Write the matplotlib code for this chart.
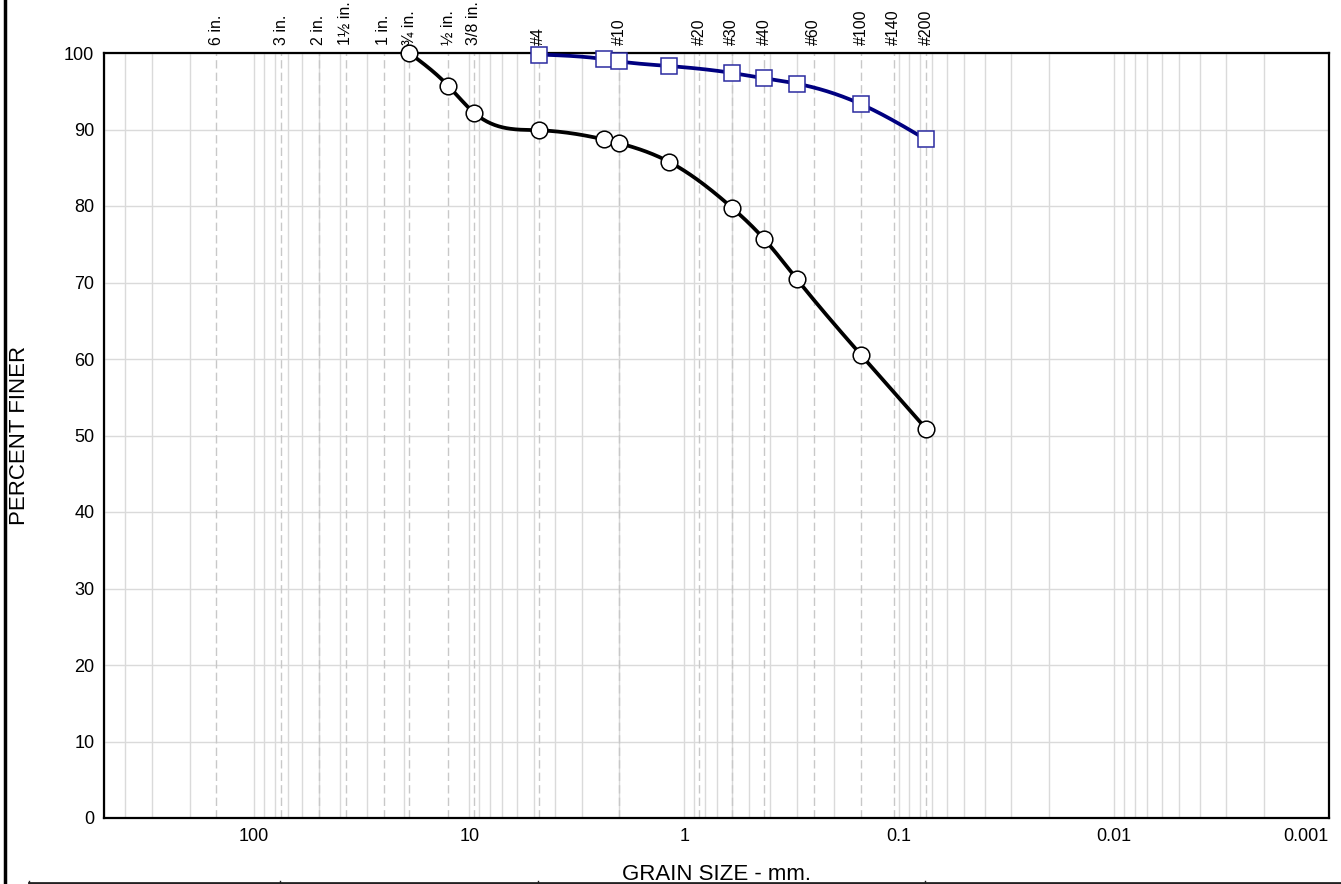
import numpy as np
import matplotlib
matplotlib.use('Agg')
import matplotlib.pyplot as plt
from matplotlib.lines import Line2D
from matplotlib.ticker import LogLocator, NullFormatter

plt.rcParams['font.family'] = ['Liberation Sans', 'DejaVu Sans']

# sieve openings (mm) marked along the top
sieve_mm = [150, 75, 50, 37.5, 25, 19, 12.5, 9.5, 4.75, 2.0, 0.85, 0.6, 0.425,
            0.25, 0.15, 0.106, 0.075]
sieve_labels = ['6 in.', '3 in.', '2 in.', '1½ in.', '1 in.', '¾ in.', '½ in.',
                '3/8 in.', '#4', '#10', '#20', '#30', '#40', '#60', '#100',
                '#140', '#200']

# sample 1 (circles)
size_a = [19, 12.5, 9.5, 4.75, 2.36, 2.0, 1.18, 0.6, 0.425, 0.3, 0.15, 0.075]
finer_a = [100.0, 95.7, 92.2, 89.9, 88.7, 88.2, 85.8, 79.8, 75.7, 70.5, 60.5, 50.9]

# sample 2 (squares)
size_b = [4.75, 2.36, 2.0, 1.18, 0.6, 0.425, 0.3, 0.15, 0.075]
finer_b = [99.8, 99.2, 98.9, 98.3, 97.4, 96.7, 96.0, 93.3, 88.7]

x_ticks = [100, 10, 1, 0.1, 0.01, 0.001]
x_ticklabels = ['100', '10', '1', '0.1', '0.01', '0.001']
y_ticks = list(range(0, 101, 10))


def spline_curve(x, y, n=400):
    # natural cubic spline through the points, in log10(size)
    u = np.log10(np.asarray(x, float))
    y = np.asarray(y, float)
    order = np.argsort(u)
    u, y = u[order], y[order]
    m = len(u)
    h = np.diff(u)
    A = np.zeros((m, m))
    r = np.zeros(m)
    A[0, 0] = A[-1, -1] = 1
    for i in range(1, m - 1):
        A[i, i - 1] = h[i - 1]
        A[i, i] = 2 * (h[i - 1] + h[i])
        A[i, i + 1] = h[i]
        r[i] = 6 * ((y[i + 1] - y[i]) / h[i] - (y[i] - y[i - 1]) / h[i - 1])
    M = np.linalg.solve(A, r)
    us = np.linspace(u[0], u[-1], n)
    k = np.clip(np.searchsorted(u, us) - 1, 0, m - 2)
    t0 = us - u[k]
    t1 = u[k + 1] - us
    hk = h[k]
    ys = ((M[k] * t1**3 + M[k + 1] * t0**3) / (6 * hk)
          + (y[k] / hk - M[k] * hk / 6) * t1
          + (y[k + 1] / hk - M[k + 1] * hk / 6) * t0)
    return 10**us, ys


W, H = 1341, 884
fig = plt.figure(figsize=(W / 100, H / 100), dpi=100)
ax = fig.add_axes([104 / W, 66 / H, 1225 / W, 765 / H])
ax.set_xscale('log')
ax.set_xlim(500, 0.001)
ax.set_ylim(0, 100)
ax.set_axisbelow(True)

ax.xaxis.set_minor_locator(LogLocator(base=10, subs=np.arange(2, 10)))
ax.xaxis.set_minor_formatter(NullFormatter())
ax.set_xticks(x_ticks, x_ticklabels)
ax.set_yticks(y_ticks)
ax.tick_params(which='both', length=0, pad=7, labelsize=13)
ax.get_xticklabels()[-1].set_ha('right')

ax.grid(axis='x', which='both', color='#dadada', lw=1)
ax.grid(axis='y', which='major', color='#dadada', lw=1)
for d in sieve_mm:
    ax.axvline(d, color='#c8c8c8', lw=1, ls=(0, (6, 3)), zorder=1)

for sp in ax.spines.values():
    sp.set_linewidth(1.6)
    sp.set_color('black')

# curves
xs, ys = spline_curve(size_a, finer_a)
ax.plot(xs, ys, color='black', lw=2.7, zorder=3, solid_capstyle='round')
ax.plot(size_a, finer_a, 'o', ms=12, mfc='white', mec='black', mew=1.1,
        zorder=5, clip_on=False)

xs, ys = spline_curve(size_b, finer_b)
ax.plot(xs, ys, color='#000080', lw=2.7, zorder=3, solid_capstyle='round')
ax.plot(size_b, finer_b, 's', ms=12, mfc='white', mec='#2b2ba0', mew=1.1,
        zorder=5, clip_on=False)

# sieve labels above the plot
for d, lab in zip(sieve_mm, sieve_labels):
    ax.text(d, 1.0105, lab, transform=ax.get_xaxis_transform(), rotation=90,
            ha='center', va='bottom', fontsize=11.5)

fig.text(20 / W, 1 - 435.5 / H, 'PERCENT FINER', rotation=90,
         ha='center', va='center', fontsize=16)
fig.text(716 / W, 4 / H, 'GRAIN SIZE - mm.', ha='center', va='baseline',
         fontsize=16)

# frame pieces of the surrounding report
fig.add_artist(Line2D([5 / W, 5 / W], [0, 1], color='black', lw=2.5,
                      transform=fig.transFigure))
fig.add_artist(Line2D([29 / W, 1], [1.5 / H, 1.5 / H], color='#222222', lw=2,
                      transform=fig.transFigure))
for px in [29, 280, 538, 925]:
    fig.add_artist(Line2D([px / W, px / W], [0, 3 / H], color='#222222', lw=1,
                          transform=fig.transFigure))

fig.savefig('out.png', dpi=100)
